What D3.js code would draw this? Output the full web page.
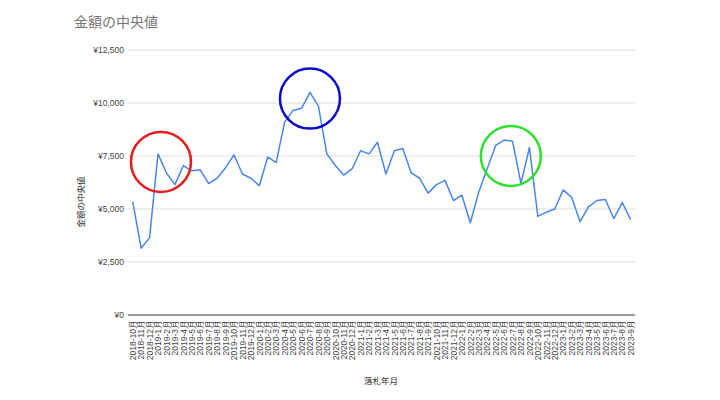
<!DOCTYPE html>
<meta charset="utf-8">
<style>
body { margin: 0; background: #fff; font-family: "Liberation Sans", Arial, "Noto Sans CJK JP", sans-serif; }
.grid line { stroke: #ddd; stroke-width: 1; }
.axis text { fill: #444; }
</style>
<body>
<script src="https://cdn.jsdelivr.net/npm/d3@7"></script>
<script>

// months 2018-10 .. 2023-9
var months = ["2018-10月","2018-11月","2018-12月",
  "2019-1月","2019-2月","2019-3月","2019-4月","2019-5月","2019-6月","2019-7月","2019-8月","2019-9月","2019-10月","2019-11月","2019-12月",
  "2020-1月","2020-2月","2020-3月","2020-4月","2020-5月","2020-6月","2020-7月","2020-8月","2020-9月","2020-10月","2020-11月","2020-12月",
  "2021-1月","2021-2月","2021-3月","2021-4月","2021-5月","2021-6月","2021-7月","2021-8月","2021-9月","2021-10月","2021-11月","2021-12月",
  "2022-1月","2022-2月","2022-3月","2022-4月","2022-5月","2022-6月","2022-7月","2022-8月","2022-9月","2022-10月","2022-11月","2022-12月",
  "2023-1月","2023-2月","2023-3月","2023-4月","2023-5月","2023-6月","2023-7月","2023-8月","2023-9月"];

var medians = [5350, 3150, 3650, 7600, 6700, 6150, 7050, 6800, 6850, 6200, 6450, 6950,
  7550, 6650, 6450, 6100, 7450, 7200, 9100, 9650, 9750, 10500, 9850, 7600,
  7050, 6600, 6900, 7750, 7600, 8150, 6650, 7750, 7850, 6700, 6450, 5750,
  6150, 6350, 5400, 5650, 4350, 5800, 6900, 8000, 8250, 8200, 6200, 7900,
  4650, 4850, 5000, 5900, 5550, 4400, 5100, 5400, 5450, 4550, 5300, 4500];

var yTicks = [0, 2500, 5000, 7500, 10000, 12500];

// highlight circles: month index (fractional), value, colour
var highlights = [
  {i: 3.35, v: 7220, color: "#e31e1e"},
  {i: 21.0, v: 10210, color: "#0a0ac8"},
  {i: 44.8, v: 7500, color: "#2ee02e"}
];

var W = 720, H = 400;
var plotLeft = 128, plotRight = 635, plotTop = 50, plotBottom = 315;

var svg = d3.select("body").append("svg")
  .attr("width", W).attr("height", H);

var x = d3.scalePoint().domain(months).range([132.7, 630.7]);
var y = d3.scaleLinear().domain([0, 12500]).range([plotBottom, plotTop]);

// title
svg.append("text")
  .attr("x", 74).attr("y", 27)
  .style("font-size", "14px").style("fill", "#757575")
  .style("font-family", "'Noto Sans CJK JP', sans-serif")
  .text("金額の中央値");

// grid
svg.append("g").attr("class", "grid")
  .selectAll("line").data(yTicks.slice(1)).enter().append("line")
  .attr("x1", plotLeft).attr("x2", plotRight)
  .attr("y1", function(d) { return y(d); })
  .attr("y2", function(d) { return y(d); });

// y axis labels
var yAxis = d3.axisLeft(y).tickValues(yTicks).tickSize(0).tickPadding(4)
  .tickFormat(function(d) { return "¥" + d3.format(",")(d); });
svg.append("g").attr("class", "axis")
  .attr("transform", "translate(" + plotLeft + ",0)")
  .call(yAxis)
  .call(function(g) { g.select(".domain").remove(); })
  .selectAll("text").style("font-size", "8.5px").style("fill", "#444");

// x axis
var xAxis = d3.axisBottom(x).tickSize(0).tickPadding(0);
var xg = svg.append("g").attr("class", "axis")
  .attr("transform", "translate(0," + plotBottom + ")")
  .call(xAxis);
xg.select(".domain").attr("d", "M" + plotLeft + ",0H" + plotRight).attr("stroke", "#333");
xg.selectAll("text")
  .attr("transform", "rotate(-90)")
  .attr("x", -5).attr("y", 0).attr("dy", "0.32em")
  .style("text-anchor", "end")
  .style("font-size", "8.5px").style("fill", "#444");

// line
var line = d3.line()
  .x(function(d, i) { return x(months[i]); })
  .y(function(d) { return y(d); });

svg.append("path").datum(medians)
  .attr("fill", "none")
  .attr("stroke", "#4a86e8")
  .attr("stroke-width", 1.5)
  .attr("stroke-linejoin", "round")
  .attr("d", line);

// highlight circles
var step = x.step();
svg.selectAll(".hl").data(highlights).enter().append("circle")
  .attr("class", "hl")
  .attr("cx", function(d) { return x(months[0]) + d.i * step; })
  .attr("cy", function(d) { return y(d.v); })
  .attr("r", 30)
  .attr("fill", "none")
  .attr("stroke", function(d) { return d.color; })
  .attr("stroke-width", 2.5);

// axis titles
svg.append("text")
  .attr("transform", "translate(84,202) rotate(-90)")
  .style("text-anchor", "middle").style("font-size", "8.5px").style("fill", "#333")
  .style("font-family", "'Noto Sans CJK JP', sans-serif")
  .text("金額の中央値");

svg.append("text")
  .attr("x", 381).attr("y", 384)
  .style("text-anchor", "middle").style("font-size", "8.5px").style("fill", "#333")
  .style("font-family", "'Noto Sans CJK JP', sans-serif")
  .text("落札年月");

</script>
</body>
